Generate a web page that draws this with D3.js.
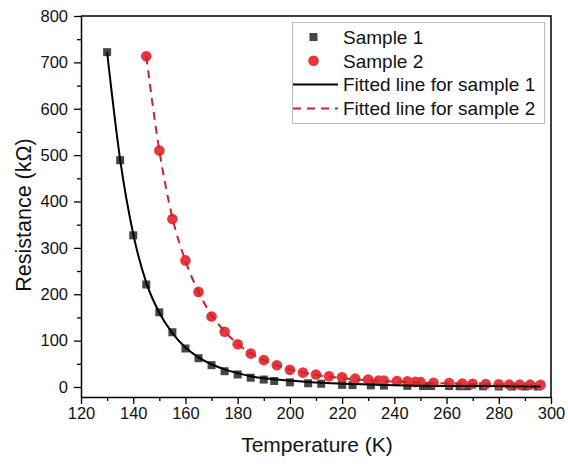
<!DOCTYPE html>
<html>
<head>
<meta charset="utf-8">
<script src="https://cdn.jsdelivr.net/npm/d3@7/dist/d3.min.js"></script>
<style>
  html, body { margin: 0; padding: 0; background: #fff; }
  svg { display: block; font-family: "Liberation Sans", Arial, sans-serif; }
</style>
</head>
<body>
<div id="chart"></div>
<script>
// ---- data ----
const s1Temp = [130, 135, 140, 145, 150, 155, 160, 165, 170, 175, 180, 185, 190, 194, 200,
                207, 212, 220, 224, 231, 236, 245, 251, 254, 261, 265, 268, 274, 280, 285, 290, 295];
const s1Res  = [722, 489, 327, 221, 161, 118, 83, 62, 47, 34, 27, 20, 16, 13, 10,
                8, 7, 4.5, 4, 3.5, 3, 2.5, 2, 2, 2, 1.5, 1.5, 1.5, 1, 1, 1, 1];

const s2Temp = [145, 150, 155, 160, 165, 170, 175, 180, 185, 190, 195, 200, 205, 210, 215,
                220, 225, 230, 234, 236, 241, 245, 248, 250, 255, 261, 266, 270, 275, 280, 284, 288, 292, 296];
const s2Res  = [713, 510, 362, 273, 205, 152, 119, 92, 72, 58, 47, 37, 31, 27, 23,
                21, 18, 16, 14, 14, 13, 12, 11, 10.5, 9, 8.5, 7.5, 7, 6.5, 6, 5.5, 5, 5, 4.5];

// fitted curves
const fit1Temp = [130, 135, 140, 145, 150, 155, 160, 165, 170, 175, 180, 185, 195, 207, 219, 240, 270, 296];
const fit1Res  = [722, 490, 330, 225, 160, 116, 85, 64, 49, 38, 30, 23, 16, 11, 7.5, 4, 2, 1];
const fit2Temp = [145, 150, 155, 160, 165, 170, 175, 180, 185, 190, 200, 210, 220, 235, 250, 270, 296];
const fit2Res  = [713, 510, 365, 272, 205, 155, 120, 93, 73, 58, 38, 26, 19, 13, 9.5, 6.5, 4.5];

const xTicks = [120, 140, 160, 180, 200, 220, 240, 260, 280, 300];
const yTicks = [0, 100, 200, 300, 400, 500, 600, 700, 800];

const legendLabels = ['Sample 1', 'Sample 2', 'Fitted line for sample 1', 'Fitted line for sample 2'];

// ---- layout ----
const W = 568, H = 464;
const mLeft = 81, mRight = 551, mTop = 16, mBottom = 397;

const svg = d3.select('#chart').append('svg')
    .attr('width', W).attr('height', H);

const x = d3.scaleLinear().domain([120, 300]).range([mLeft, mRight]);
const y = d3.scaleLinear().domain([-21.6, 800]).range([mBottom, mTop]);

// minor ticks
svg.append('g')
    .attr('transform', `translate(0,${mBottom})`)
    .call(d3.axisBottom(x).tickValues(d3.range(130, 300, 20)).tickSize(4).tickFormat(''))
    .call(g => g.select('.domain').remove())
    .selectAll('line').attr('stroke-width', 1.3);
svg.append('g')
    .attr('transform', `translate(${mLeft},0)`)
    .call(d3.axisLeft(y).tickValues(d3.range(50, 800, 100)).tickSize(4).tickFormat(''))
    .call(g => g.select('.domain').remove())
    .selectAll('line').attr('stroke-width', 1.3);

// major axes
const xAxis = svg.append('g')
    .attr('transform', `translate(0,${mBottom})`)
    .call(d3.axisBottom(x).tickValues(xTicks).tickSize(7).tickPadding(3).tickSizeOuter(0));
const yAxis = svg.append('g')
    .attr('transform', `translate(${mLeft},0)`)
    .call(d3.axisLeft(y).tickValues(yTicks).tickSize(7).tickPadding(6).tickSizeOuter(0));

[xAxis, yAxis].forEach(g => {
    g.select('.domain').attr('stroke-width', 1.5);
    g.selectAll('.tick line').attr('stroke-width', 1.3);
    g.selectAll('.tick text')
        .attr('font-size', '16.5px')
        .attr('font-family', '"Liberation Sans", Arial, sans-serif')
        .attr('fill', '#111');
});

// frame: top and right
svg.append('path')
    .attr('d', `M${mLeft},${mTop}H${mRight}V${mBottom}`)
    .attr('fill', 'none')
    .attr('stroke', '#000')
    .attr('stroke-width', 1.5);

// axis titles
svg.append('text')
    .attr('x', (mLeft + mRight) / 2 + 1)
    .attr('y', 452)
    .attr('text-anchor', 'middle')
    .attr('font-size', '21px')
    .attr('fill', '#111')
    .text('Temperature (K)');

svg.append('text')
    .attr('transform', 'translate(31,215) rotate(-90)')
    .attr('text-anchor', 'middle')
    .attr('font-size', '21.5px')
    .attr('fill', '#111')
    .text('Resistance (kΩ)');

// ---- marks ----
const red = '#e8373c';
const darkRed = '#c3262c';
const grey = '#464646';

const s1 = s1Temp.map((t, i) => [t, s1Res[i]]);
const s2 = s2Temp.map((t, i) => [t, s2Res[i]]);
const f1 = fit1Temp.map((t, i) => [t, fit1Res[i]]);
const f2 = fit2Temp.map((t, i) => [t, fit2Res[i]]);

const line = d3.line()
    .x(d => x(d[0]))
    .y(d => y(d[1]))
    .curve(d3.curveMonotoneX);

svg.append('g').selectAll('rect')
    .data(s1)
    .join('rect')
    .attr('x', d => x(d[0]) - 4)
    .attr('y', d => y(d[1]) - 4)
    .attr('width', 8)
    .attr('height', 8)
    .attr('fill', grey);

svg.append('g').selectAll('circle')
    .data(s2)
    .join('circle')
    .attr('cx', d => x(d[0]))
    .attr('cy', d => y(d[1]))
    .attr('r', 5.3)
    .attr('fill', red);

svg.append('path')
    .datum(f1)
    .attr('d', line)
    .attr('fill', 'none')
    .attr('stroke', '#000')
    .attr('stroke-width', 2);

svg.append('path')
    .datum(f2)
    .attr('d', line)
    .attr('fill', 'none')
    .attr('stroke', darkRed)
    .attr('stroke-width', 2)
    .attr('stroke-dasharray', '8,6');

// ---- legend ----
const lg = svg.append('g');
lg.append('rect')
    .attr('x', 292.5).attr('y', 22.5)
    .attr('width', 252).attr('height', 101)
    .attr('fill', '#fff')
    .attr('stroke', '#bbb')
    .attr('stroke-width', 1);

const rowY = i => 37 + i * 23.8;

lg.append('rect')
    .attr('x', 309.5).attr('y', rowY(0) - 4)
    .attr('width', 8).attr('height', 8)
    .attr('fill', grey);
lg.append('circle')
    .attr('cx', 313.5).attr('cy', rowY(1))
    .attr('r', 5.3)
    .attr('fill', red);
lg.append('line')
    .attr('x1', 293).attr('x2', 338)
    .attr('y1', rowY(2)).attr('y2', rowY(2))
    .attr('stroke', '#000').attr('stroke-width', 2);
lg.append('line')
    .attr('x1', 293).attr('x2', 338)
    .attr('y1', rowY(3)).attr('y2', rowY(3))
    .attr('stroke', darkRed).attr('stroke-width', 2)
    .attr('stroke-dasharray', '8,6');

lg.selectAll('text.lab')
    .data(legendLabels)
    .join('text')
    .attr('class', 'lab')
    .attr('x', 343)
    .attr('y', (d, i) => rowY(i))
    .attr('dy', '0.36em')
    .attr('font-size', '19px')
    .attr('fill', '#111')
    .text(d => d);
</script>
</body>
</html>
